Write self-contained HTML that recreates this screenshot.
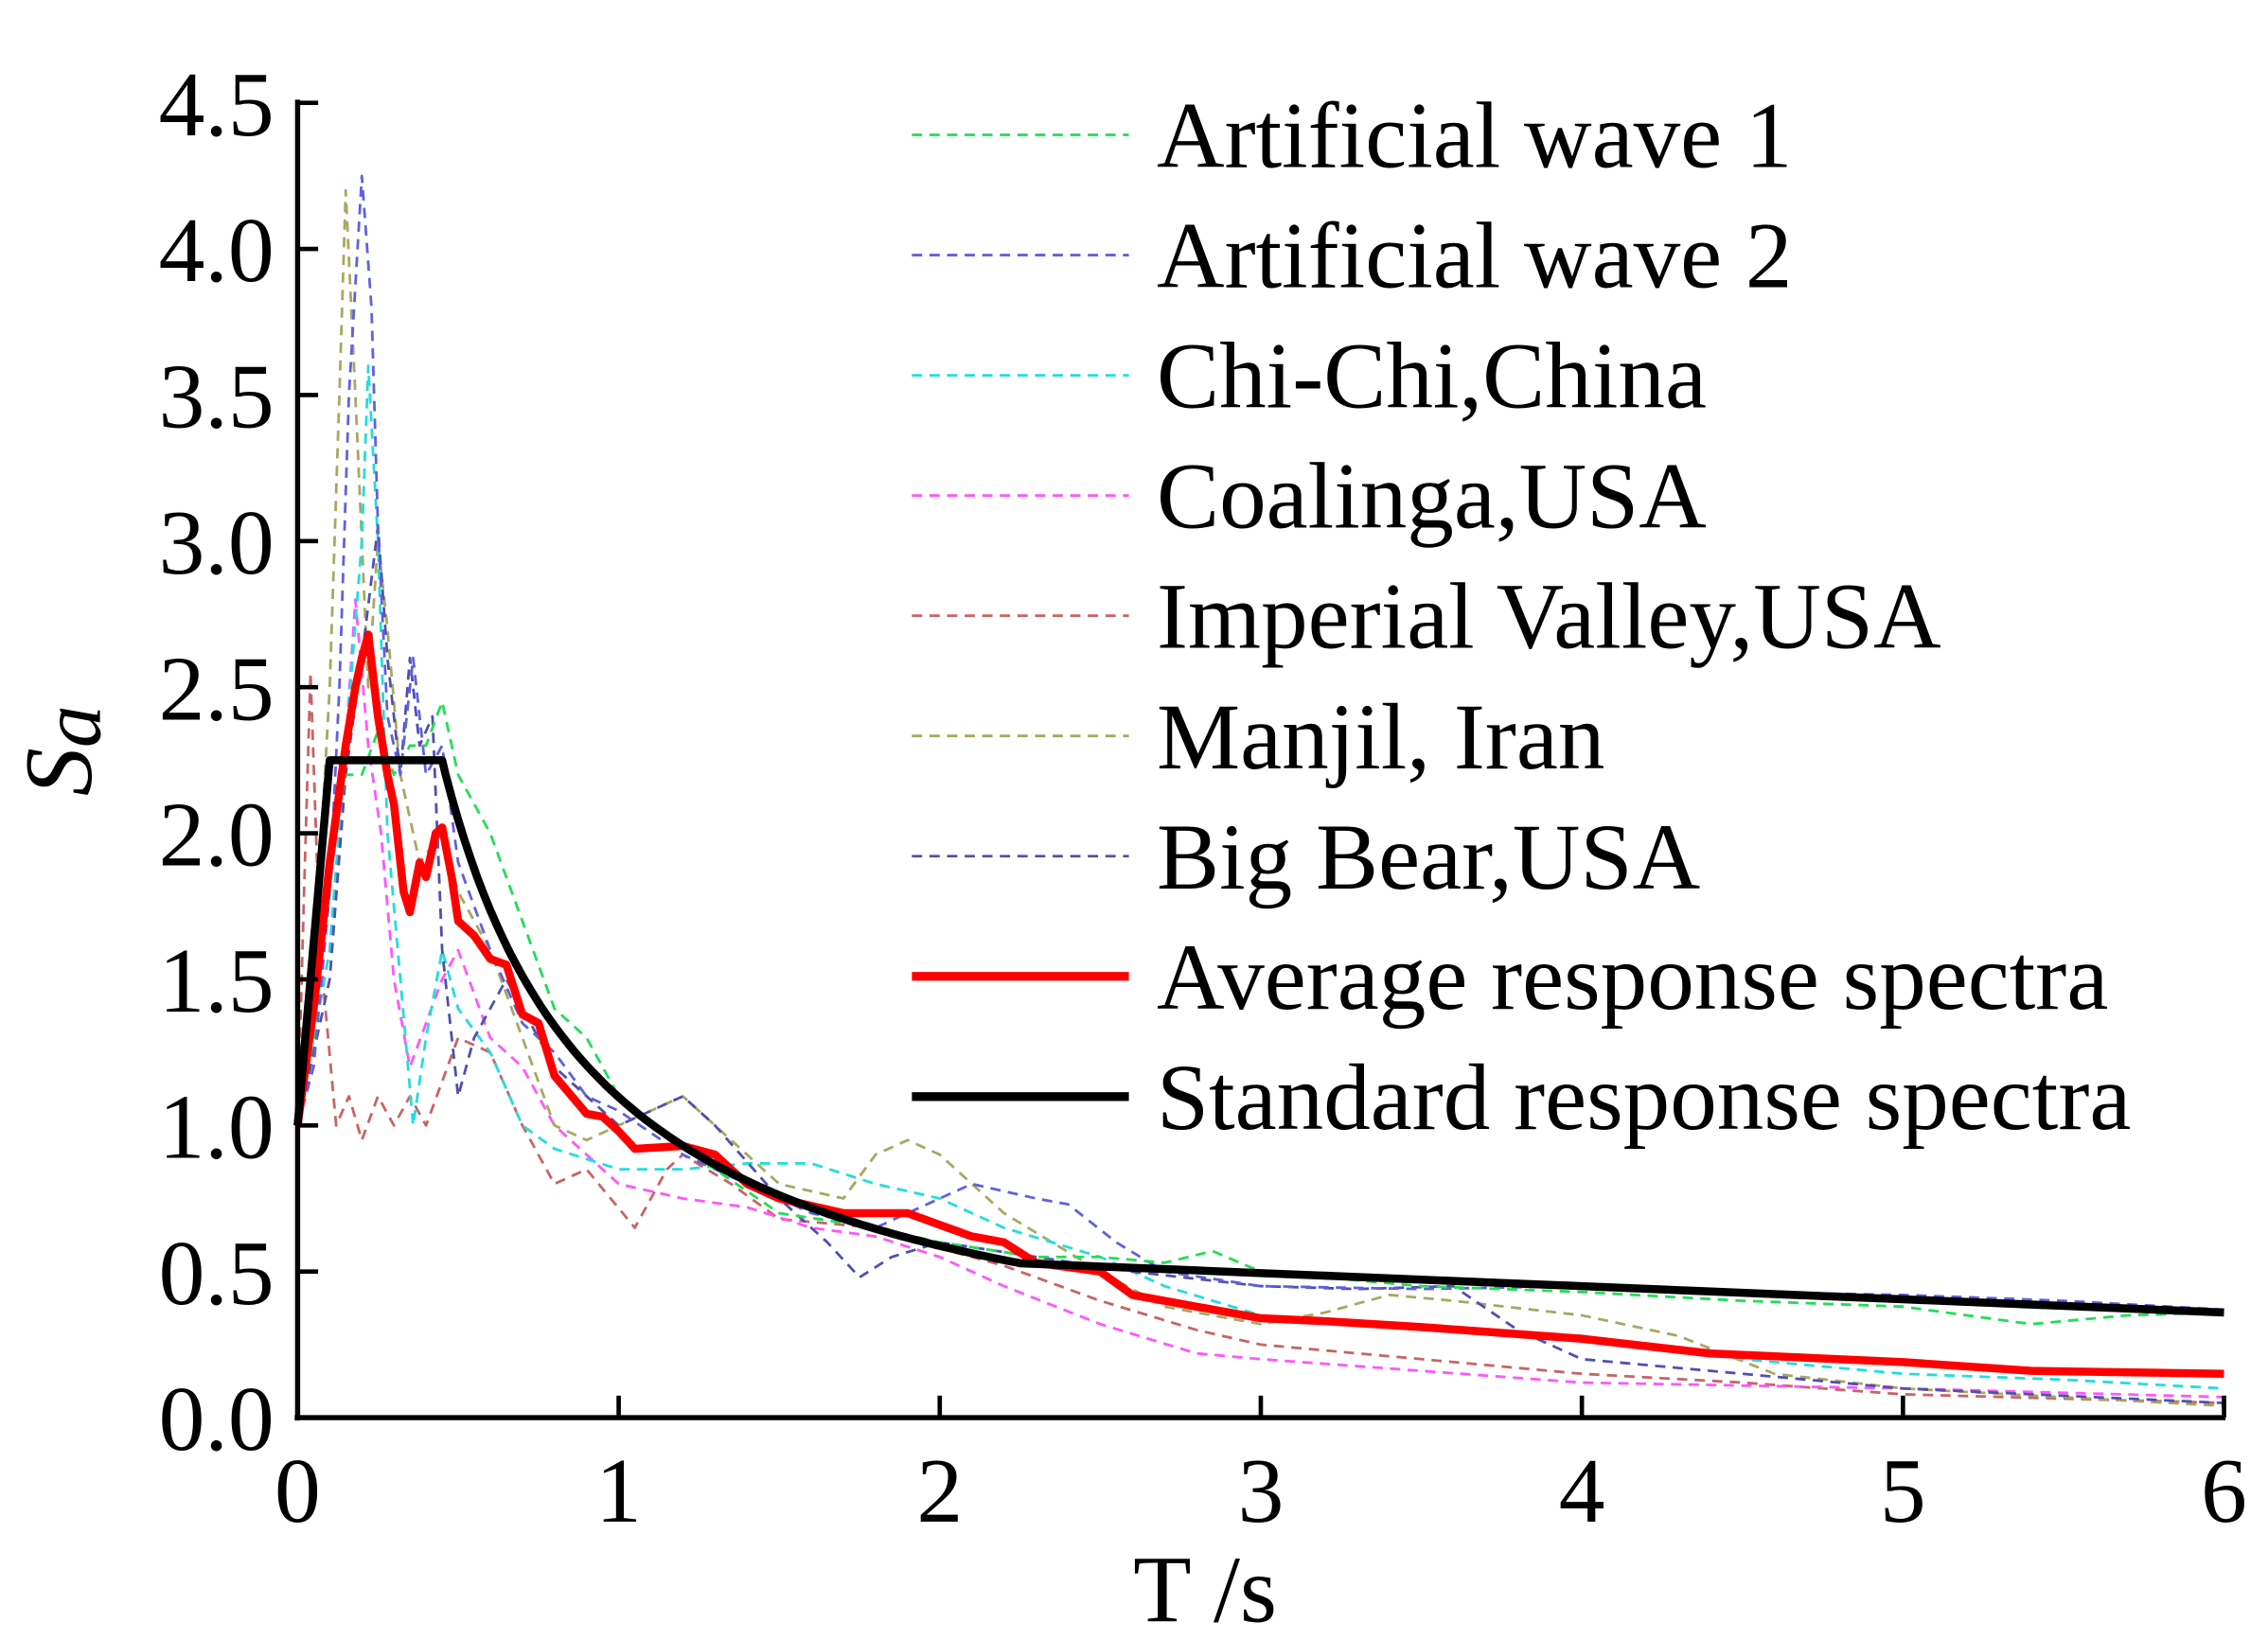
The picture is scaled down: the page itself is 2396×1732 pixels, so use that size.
<!DOCTYPE html>
<html><head><meta charset="utf-8"><style>
html,body{margin:0;padding:0;background:#fff;overflow:hidden}
svg{display:block}
text{font-family:"Liberation Serif",serif;fill:#000}
</style></head><body>
<svg id="s" width="2396" height="1732" viewBox="0 0 1547 1118" preserveAspectRatio="none">
<g id="series"></g>
<line x1="203" y1="68" x2="203" y2="969" stroke="#000" stroke-width="3.5"/>
<line x1="201" y1="967" x2="1518" y2="967" stroke="#000" stroke-width="3.5"/>
<g id="ticks" stroke="#000" stroke-width="3"></g>
<g font-size="63" text-anchor="end" id="yl"></g>
<g font-size="63" text-anchor="middle" id="xl"></g>
<text x="822" y="1106" font-size="65" text-anchor="middle">T /s</text>
<text transform="translate(62,512) rotate(-90)" font-size="66" font-style="italic" text-anchor="middle">S<tspan font-size="58" dy="6">a</tspan></text>
<g id="leg" font-size="64"></g>
</svg>
<script>
var NS="http://www.w3.org/2000/svg";
function X(t){return 203+t*219}
function Y(v){return 967-v*199.3}
function el(tag,attrs,parent,txt){var e=document.createElementNS(NS,tag);for(var k in attrs)e.setAttribute(k,attrs[k]);if(txt!=null)e.textContent=txt;parent.appendChild(e);return e}
var tk=document.getElementById('ticks'),yl=document.getElementById('yl'),xl=document.getElementById('xl');
for(var i=0;i<=9;i++){var v=i*0.5;el('line',{x1:203,x2:217,y1:Y(v),y2:Y(v)},tk);el('text',{x:187,y:Y(v)+22},yl,v.toFixed(1));}
for(var i=0;i<=6;i++){el('line',{x1:X(i),x2:X(i),y1:967,y2:952},tk);el('text',{x:X(i),y:1038},xl,String(i));}
function path(pts,color,w,dash){var d=pts.map(function(p,i){return (i?'L':'M')+X(p[0]).toFixed(1)+','+Y(p[1]).toFixed(1)}).join(' ');
 var a={d:d,fill:'none',stroke:color,'stroke-width':w,'stroke-linejoin':'round'};if(dash)a['stroke-dasharray']=dash;el('path',a,document.getElementById('series'));}
var D='7,5';
var S={
g:[[0,1],[0.05,1.3],[0.1,1.9],[0.15,2.2],[0.2,2.2],[0.25,2.35],[0.3,2.2],[0.35,2.3],[0.4,2.3],[0.45,2.45],[0.5,2.2],[0.6,2.0],[0.7,1.7],[0.8,1.4],[0.9,1.3],[1.0,1.1],[1.1,1.0],[1.3,0.85],[1.5,0.7],[1.8,0.65],[2.0,0.6],[2.3,0.55],[2.5,0.55],[2.7,0.53],[2.85,0.57],[3.0,0.5],[3.5,0.45],[4,0.43],[4.5,0.4],[5,0.38],[5.4,0.32],[5.7,0.35],[6,0.36]],
b:[[0,1],[0.05,1.2],[0.1,1.8],[0.13,2.5],[0.16,3.5],[0.2,4.25],[0.23,3.8],[0.25,3.05],[0.28,2.4],[0.32,2.2],[0.36,2.6],[0.4,2.2],[0.45,2.3],[0.5,1.9],[0.6,1.6],[0.7,1.35],[0.8,1.25],[0.9,1.1],[1.0,1.05],[1.2,0.9],[1.4,0.8],[1.6,0.7],[1.8,0.65],[2.0,0.75],[2.1,0.8],[2.3,0.75],[2.4,0.73],[2.55,0.6],[2.7,0.5],[3,0.45],[3.5,0.44],[4,0.45],[4.5,0.43],[5,0.42],[5.5,0.4],[6,0.37]],
c:[[0,1],[0.1,1.6],[0.15,2.3],[0.2,3.0],[0.22,3.6],[0.25,3.0],[0.28,2.0],[0.32,1.5],[0.36,1.0],[0.4,1.3],[0.45,1.6],[0.5,1.4],[0.6,1.25],[0.7,1.0],[0.8,0.92],[1.0,0.85],[1.2,0.85],[1.4,0.87],[1.6,0.87],[1.8,0.8],[2.0,0.75],[2.2,0.65],[2.5,0.55],[2.7,0.45],[3,0.35],[3.5,0.3],[4,0.28],[4.5,0.2],[5,0.15],[5.5,0.13],[6,0.1]],
m:[[0,1],[0.1,1.6],[0.15,2.3],[0.18,2.8],[0.22,2.3],[0.26,2.0],[0.3,1.5],[0.35,1.2],[0.4,1.35],[0.45,1.5],[0.5,1.6],[0.6,1.3],[0.7,1.2],[0.8,1.0],[1.0,0.8],[1.2,0.75],[1.4,0.72],[1.6,0.65],[1.8,0.62],[2.0,0.55],[2.2,0.45],[2.5,0.32],[2.8,0.22],[3,0.2],[3.5,0.16],[4,0.12],[5,0.1],[6,0.07]],
r:[[0,1],[0.02,1.8],[0.04,2.55],[0.07,1.6],[0.12,1.0],[0.16,1.1],[0.2,0.95],[0.25,1.1],[0.3,1.0],[0.35,1.1],[0.4,1.0],[0.5,1.3],[0.6,1.25],[0.7,1.0],[0.8,0.8],[0.9,0.85],[1.05,0.65],[1.15,0.85],[1.2,0.9],[1.35,0.8],[1.5,0.68],[1.8,0.65],[2.0,0.58],[2.2,0.52],[2.5,0.4],[2.8,0.3],[3,0.25],[3.5,0.2],[4,0.15],[4.5,0.12],[5,0.08],[6,0.05]],
o:[[0,1],[0.05,1.5],[0.1,2.5],[0.13,3.5],[0.15,4.2],[0.18,3.5],[0.22,2.5],[0.25,3.0],[0.28,2.7],[0.32,2.2],[0.38,1.9],[0.45,2.0],[0.5,1.8],[0.6,1.6],[0.7,1.3],[0.8,1.0],[0.9,0.95],[1.0,1.0],[1.1,1.05],[1.2,1.1],[1.3,1.0],[1.5,0.8],[1.7,0.75],[1.8,0.9],[1.9,0.95],[2.0,0.9],[2.2,0.7],[2.5,0.5],[2.7,0.38],[3,0.32],[3.2,0.36],[3.4,0.42],[3.6,0.4],[4,0.35],[4.3,0.28],[4.6,0.15],[5,0.1],[6,0.04]],
k:[[0,1],[0.1,1.5],[0.15,2.2],[0.2,2.6],[0.25,3.05],[0.28,2.6],[0.32,2.2],[0.35,2.6],[0.38,2.3],[0.42,2.4],[0.45,1.6],[0.5,1.1],[0.55,1.3],[0.65,1.5],[0.8,1.2],[1.0,1.0],[1.2,1.1],[1.3,1.0],[1.5,0.75],[1.65,0.6],[1.75,0.48],[1.85,0.55],[2.0,0.6],[2.3,0.55],[2.6,0.5],[3,0.45],[3.3,0.44],[3.6,0.45],[3.8,0.3],[4,0.2],[4.5,0.15],[5,0.1],[6,0.05]],
avg:[[0,1.0],[0.05,1.4],[0.1,1.9],[0.15,2.3],[0.18,2.5],[0.2,2.6],[0.22,2.68],[0.25,2.4],[0.28,2.2],[0.3,2.1],[0.33,1.8],[0.35,1.73],[0.38,1.9],[0.4,1.85],[0.43,2.0],[0.45,2.02],[0.48,1.85],[0.5,1.7],[0.55,1.65],[0.6,1.57],[0.65,1.55],[0.7,1.38],[0.75,1.35],[0.8,1.17],[0.9,1.04],[0.95,1.03],[1.0,0.98],[1.05,0.92],[1.2,0.93],[1.3,0.9],[1.4,0.8],[1.5,0.75],[1.7,0.7],[1.9,0.7],[2.0,0.66],[2.1,0.62],[2.2,0.6],[2.3,0.53],[2.5,0.5],[2.6,0.42],[2.8,0.38],[3.0,0.34],[3.2,0.33],[3.5,0.31],[4.0,0.27],[4.4,0.22],[5.0,0.19],[5.4,0.16],[6,0.15]]
};
path(S.r,'#c86464',1.8,D);path(S.m,'#ff55ff',1.8,D);path(S.o,'#a8a860',1.8,D);path(S.c,'#22dddd',1.8,D);
path(S.k,'#5050b0',1.8,D);path(S.b,'#6060e0',1.8,D);path(S.g,'#22dd55',1.8,D);
path(S.avg,'#ff0000',5.5);
var std=[[0,1],[0.1,2.25],[0.45,2.25]];
for(var t=0.46;t<=2.25;t+=0.02)std.push([t,2.25*Math.pow(0.45/t,0.9)]);
var e=2.25*Math.pow(0.2,0.9);
for(var t=2.25;t<=6.001;t+=0.25)std.push([t,e-(e-0.36)*(t-2.25)/3.75]);
path(std,'#000',5.5);
var L=[['Artificial wave 1','#22dd55',0],['Artificial wave 2','#6060e0',0],['Chi-Chi,China','#22dddd',0],['Coalinga,USA','#ff55ff',0],['Imperial Valley,USA','#c86464',0],['Manjil, Iran','#a8a860',0],['Big Bear,USA','#5050b0',0],['Average response spectra','#ff0000',1],['Standard response spectra','#000',1]];
var lg=document.getElementById('leg');
L.forEach(function(l,i){var y=92+i*82;
 var a={x1:622,x2:770,y1:y,y2:y,stroke:l[1],'stroke-width':l[2]?6:1.8};if(!l[2])a['stroke-dasharray']=D;el('line',a,lg);
 el('text',{x:789,y:y+22},lg,l[0]);});
</script>
</body></html>
